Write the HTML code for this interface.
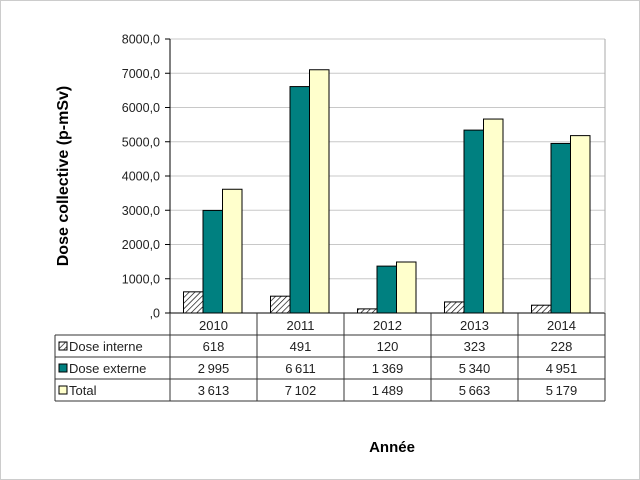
<!DOCTYPE html>
<html><head><meta charset="utf-8"><style>
body{margin:0;background:#fff;}
svg{display:block;font-family:"Liberation Sans",sans-serif;}
</style></head><body>
<svg id="c" width="640" height="480">
<defs><pattern id="hatch" width="4" height="4" patternUnits="userSpaceOnUse" patternTransform="rotate(45)"><rect width="4" height="4" fill="#fff"/><line x1="0" y1="0" x2="0" y2="4" stroke="#000" stroke-width="1.3"/></pattern></defs>
<rect x="0.5" y="0.5" width="639" height="479" fill="#fff" stroke="#ccc"/>
<g id="grid"></g><g id="bars"></g><g id="table"></g>
<text x="0" y="0" transform="translate(68,176) rotate(-90)" text-anchor="middle" font-size="16" font-weight="bold">Dose collective (p-mSv)</text>
<text x="392" y="452" text-anchor="middle" font-size="15" font-weight="bold">Année</text>
</svg>
<script>
const categories=["2010","2011","2012","2013","2014"];
const interne=[618,491,120,323,228];
const externe=[2995,6611,1369,5340,4951];
const total=[3613,7102,1489,5663,5179];
const seriesNames=["Dose interne","Dose externe","Total"];
const ticks=[0,1000,2000,3000,4000,5000,6000,7000,8000];
const tickLabels=[",0","1000,0","2000,0","3000,0","4000,0","5000,0","6000,0","7000,0","8000,0"];
const NS="http://www.w3.org/2000/svg";
const x0=170,x1=605,y0=313,yTop=39,maxV=8000;
const cw=(x1-x0)/categories.length;
const y=v=>y0-(y0-yTop)*v/maxV;
function el(t,a,p,txt){const e=document.createElementNS(NS,t);for(const k in a)e.setAttribute(k,a[k]);if(txt!==undefined)e.textContent=txt;document.getElementById(p).appendChild(e);return e;}
ticks.forEach((t,i)=>{
 const g=el("line",{x1:x0,x2:x1,y1:y(t),y2:y(t),stroke:t===0?"#000":"#c8c8c8"},"grid");
 
 
 el("line",{x1:x0-5,x2:x0,y1:y(t),y2:y(t),stroke:"#000"},"grid");
 const l=el("text",{x:x0-10,y:y(t)+4.5,"text-anchor":"end","font-size":"12.5",fill:"#222"},"grid",tickLabels[i]);
 
 
});
el("line",{x1:x0,x2:x0,y1:yTop,y2:y0,stroke:"#000"},"grid");
el("line",{x1:x1,x2:x1,y1:yTop,y2:y0,stroke:"#aaa"},"grid");
const series=[interne,externe,total];
const fills=["url(#hatch)","#008080","#ffffcc"];
const bw=19.5;
categories.forEach((c,i)=>{
 series.forEach((s,j)=>{
  const bx=x0+i*cw+13.5+j*bw;
  const r=el("rect",{x:bx,y:y(s[i]),width:bw,height:y0-y(s[i]),fill:fills[j],stroke:"#000","stroke-width":"1"},"bars");
  
  
 });
});
const rowsY=[313,335,357,379,401];
const lx=55;
el("line",{x1:lx,x2:x1,y1:401,y2:401,stroke:"#333"},"table");
el("line",{x1:x1,x2:x1,y1:313,y2:401,stroke:"#333"},"table");
for(let r=1;r<4;r++)el("line",{x1:lx,x2:x1,y1:rowsY[r],y2:rowsY[r],stroke:"#333"},"table");
el("line",{x1:lx,x2:lx,y1:335,y2:401,stroke:"#333"},"table");
for(let i=0;i<=categories.length;i++)el("line",{x1:x0+i*cw,x2:x0+i*cw,y1:313,y2:401,stroke:"#333"},"table");
const fmt=v=>v>=1000?Math.floor(v/1000)+"\u2009"+String(v%1000).padStart(3,"0"):String(v);
categories.forEach((c,i)=>{
 const t=el("text",{x:x0+i*cw+cw/2,y:330,"text-anchor":"middle","font-size":"13",fill:"#222"},"table",c);
 
 
 series.forEach((s,j)=>{
  const v=el("text",{x:x0+i*cw+cw/2,y:rowsY[j+1]+16,"text-anchor":"middle","font-size":"13",fill:"#222"},"table",fmt(s[i]));
  
  
 });
});
seriesNames.forEach((n,j)=>{
 const k=el("rect",{x:59,y:rowsY[j+1]+7,width:8,height:8,fill:fills[j],stroke:"#000"},"table");
 
 
 const t=el("text",{x:69,y:rowsY[j+1]+16,"font-size":"13",fill:"#222"},"table",n);
 
 
});
</script>
</body></html>
